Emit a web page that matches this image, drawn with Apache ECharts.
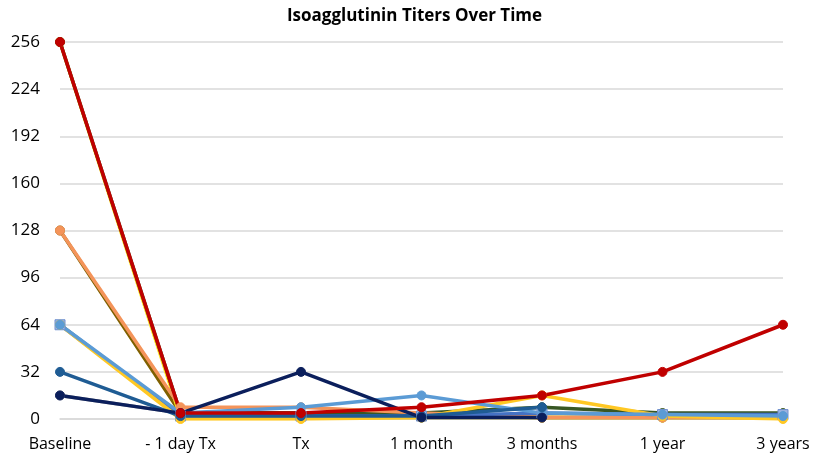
<!DOCTYPE html>
<html>
<head>
<meta charset="utf-8">
<script src="https://cdn.jsdelivr.net/npm/echarts@6/dist/echarts.min.js"></script>
<style>
  html, body { margin: 0; padding: 0; background: #fff; }
  #chart { width: 829px; height: 469px; }
</style>
</head>
<body>
<div id="chart"></div>
<script>
// time points
const categories = ['Baseline', '- 1 day Tx', 'Tx', '1 month', '3 months', '1 year', '3 years'];
const yTicks = [0, 32, 64, 96, 128, 160, 192, 224, 256];

// titers per patient
const grayTiters = [16, 4, 1, 1, 1, 1, 1];
const brownTiters = [128, 4, 4, 2, 1, 1, 1];
const yellowTiters = [256, 1, 1, 1, 1, 1, 1];
const greenTiters = [256, 4, 4, 4, 8, 4, 4];
const orangeTiters = [128, 8, 8, 4, 1, 1, 1];
const blueTiters = [64, 2, 2, 2, 4, 3, 3];
const goldTiters = [64, 0, 0, 1, 16, 2, 0];
const lightBlueTiters = [64, 4, 8, 16, 4, 3, 2];
const steelTiters = [32, 2, 2, 2, 8, null, null];
const navyTiters = [16, 4, 32, 1, 1, null, null];
const redTiters = [256, 4, 4, 8, 16, 32, 64];

const seriesDefs = [
  { name: 'P10', data: grayTiters, color: '#A5A5A5', symbol: 'circle' },
  { name: 'P9', data: brownTiters, color: '#7F6000', symbol: 'circle' },
  { name: 'P8', data: yellowTiters, color: '#FFE11A', symbol: 'circle' },
  { name: 'P7', data: greenTiters, color: '#385723', symbol: 'circle' },
  { name: 'P6', data: orangeTiters, color: '#F4945A', symbol: 'circle' },
  { name: 'P5', data: blueTiters, color: '#4472C4', symbol: 'rect', marker: '#9DB4E0' },
  { name: 'P4', data: goldTiters, color: '#FFC824', symbol: 'circle' },
  { name: 'P3', data: lightBlueTiters, color: '#5B9BD5', symbol: 'circle' },
  { name: 'P2', data: steelTiters, color: '#1F5C94', symbol: 'circle' },
  { name: 'P1', data: navyTiters, color: '#0B1F5C', symbol: 'circle' },
  { name: 'P0', data: redTiters, color: '#C00000', symbol: 'circle' }
];

const chart = echarts.init(document.getElementById('chart'));
chart.setOption({
  animation: false,
  title: {
    text: 'Isoagglutinin Titers Over Time',
    left: 'center',
    top: 3,
    textStyle: { fontFamily: 'Open Sans', fontWeight: 'bold', fontSize: 17, color: '#000' }
  },
  grid: { left: 60, right: 46, top: 42, bottom: 50, containLabel: false },
  xAxis: {
    type: 'category',
    data: categories,
    boundaryGap: false,
    axisLine: { lineStyle: { color: '#D9D9D9', width: 1.5 } },
    axisTick: { show: false },
    axisLabel: { color: '#000', fontFamily: 'Open Sans', fontSize: 16, margin: 17 }
  },
  yAxis: {
    type: 'value',
    min: yTicks[0],
    max: yTicks[yTicks.length - 1],
    interval: 32,
    axisLine: { show: false },
    axisTick: { show: false },
    axisLabel: { color: '#000', fontFamily: 'Open Sans', fontSize: 17, margin: 20 },
    splitLine: { lineStyle: { color: '#D9D9D9', width: 1.5 } }
  },
  series: seriesDefs.map(s => ({
    name: s.name,
    type: 'line',
    data: s.data,
    symbol: s.symbol,
    symbolSize: s.symbol === 'rect' ? 10 : 9,
    showSymbol: true,
    connectNulls: false,
    lineStyle: { color: s.color, width: 3.5 },
    itemStyle: { color: s.marker || s.color, borderColor: s.marker ? '#6E8FCF' : s.color, borderWidth: 1 }
  }))
});
</script>
</body>
</html>
